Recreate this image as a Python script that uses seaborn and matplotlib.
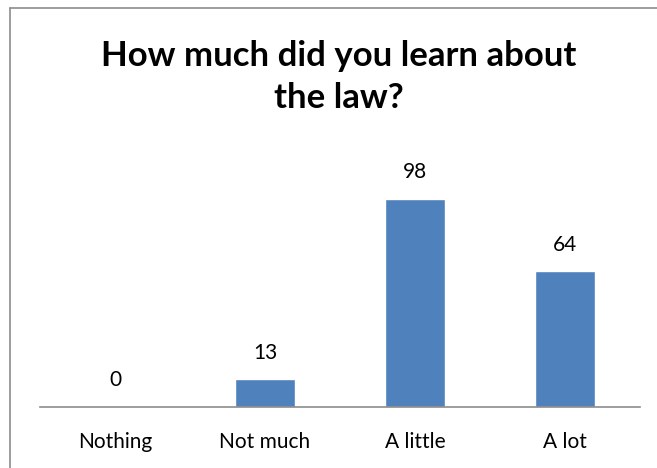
import matplotlib
matplotlib.use("Agg")
import matplotlib.pyplot as plt
from matplotlib.lines import Line2D
import seaborn as sns
import pandas as pd

categories = ["Nothing", "Not much", "A little", "A lot"]
counts = [0, 13, 98, 64]
title_text = "How much did you learn about\nthe law?"

sns.set_theme(style="white")
plt.rcParams["font.family"] = ["Lato", "DejaVu Sans"]

W, H = 657, 468
fig = plt.figure(figsize=(W / 100, H / 100), dpi=100)

# plot area in pixel coordinates
x0, x1 = 40, 640
y_base = 407
px_per_unit = 2.122
ymax = 120
ax = fig.add_axes([x0 / W, (H - y_base) / H, (x1 - x0) / W, ymax * px_per_unit / H])

df = pd.DataFrame({"category": categories, "count": counts})
sns.barplot(data=df, x="category", y="count", color="#4F81BD", width=0.4,
            saturation=1, ax=ax)
ax.set_ylim(0, ymax)
ax.set_xlim(-0.5, len(categories) - 0.5)
ax.bar_label(ax.containers[0], labels=[str(v) for v in counts], padding=12,
             fontsize=15, color="black")

for side in ["top", "right", "left"]:
    ax.spines[side].set_visible(False)
ax.spines["bottom"].set_color("#8C8C8C")
ax.spines["bottom"].set_linewidth(1.2)
ax.set_yticks([])
ax.set_xlabel("")
ax.set_ylabel("")
ax.tick_params(axis="x", length=0, pad=18, labelsize=15, labelcolor="black")

fig.text(339 / W, 1 - 77 / H, title_text, ha="center", va="center",
         fontsize=25, fontweight="bold", linespacing=1.42, color="black")

# chart frame (left and top edges)
fig.add_artist(Line2D([10 / W, 10 / W], [0, 1 - 8 / H], transform=fig.transFigure,
                      color="#8C8C8C", linewidth=1.2))
fig.add_artist(Line2D([10 / W, 1], [1 - 8 / H, 1 - 8 / H], transform=fig.transFigure,
                      color="#8C8C8C", linewidth=1.2))

fig.savefig("out.png", dpi=100)
